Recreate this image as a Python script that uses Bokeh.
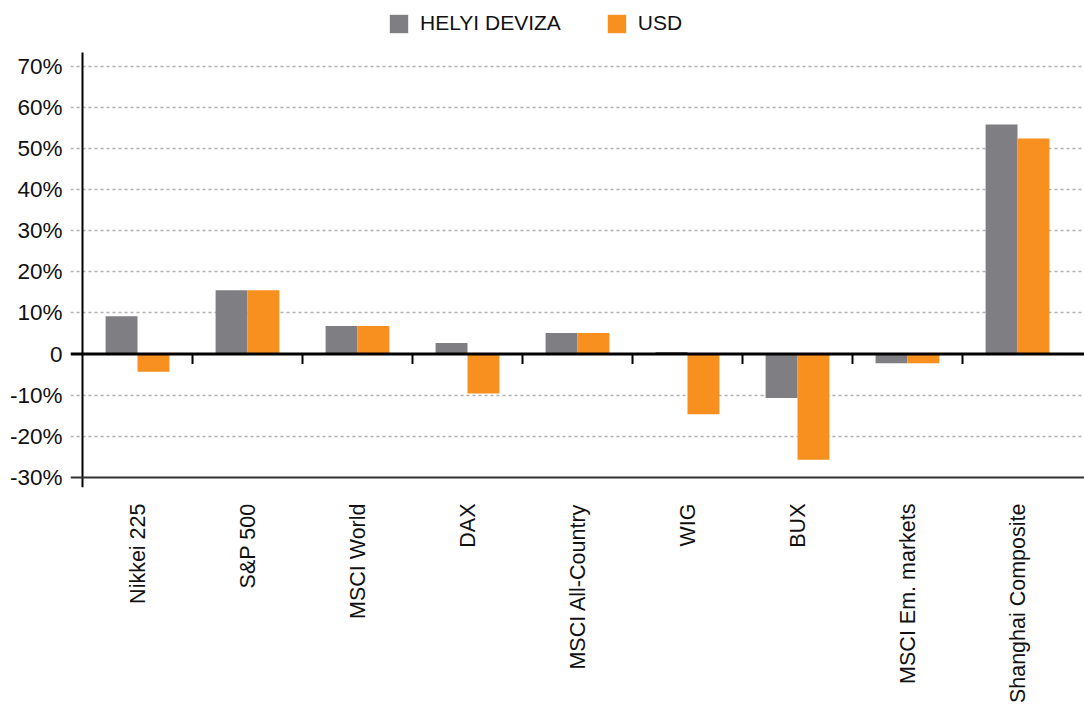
import math
from bokeh.plotting import figure
from bokeh.models import Range1d, FixedTicker, Span, Legend, LegendItem, ColumnDataSource
from bokeh.embed import file_html
from bokeh.resources import INLINE

categories = ["Nikkei 225", "S&P 500", "MSCI World", "DAX", "MSCI All-Country",
              "WIG", "BUX", "MSCI Em. markets", "Shanghai Composite"]
helyi_deviza = [9.2, 15.5, 6.8, 2.7, 5.1, 0.5, -10.7, -2.2, 55.8]
usd = [-4.3, 15.5, 6.8, -9.6, 5.1, -14.6, -25.7, -2.2, 52.4]
y_ticks = [-30, -20, -10, 0, 10, 20, 30, 40, 50, 60, 70]
y_tick_labels = ["-30%", "-20%", "-10%", "0", "10%", "20%", "30%", "40%", "50%", "60%", "70%"]

GRAY = "#7f7e83"
ORANGE = "#f7901e"
FONT = "Liberation Sans"

n = len(categories)
centers = [i + 0.5 for i in range(n)]
bw = 0.29
Y_BOTTOM = -32.43
Y_AXIS_TOP = 73.3
FRAME_H = 479
PX_PER_UNIT = 4.114

src = ColumnDataSource(dict(
    xg=[c - bw / 2 for c in centers],
    xo=[c + bw / 2 for c in centers],
    helyi=helyi_deviza,
    usd=usd,
))

p = figure(frame_width=1014, frame_height=FRAME_H, output_backend="svg", toolbar_location=None,
           x_range=Range1d(-12 / 110, 1002 / 110),
           y_range=Range1d(Y_BOTTOM, Y_BOTTOM + FRAME_H / PX_PER_UNIT),
           min_border_left=70, min_border_right=0, min_border_top=8, min_border_bottom=0)
p.outline_line_color = None
p.background_fill_color = "white"

r1 = p.vbar(x="xg", top="helyi", bottom=0, width=bw, source=src,
            fill_color=GRAY, line_color=None)
r2 = p.vbar(x="xo", top="usd", bottom=0, width=bw, source=src,
            fill_color=ORANGE, line_color=None)

# grid
p.xgrid.grid_line_color = None
p.ygrid.ticker = FixedTicker(ticks=[t for t in y_ticks if t not in (0, y_ticks[0])])
p.ygrid.grid_line_color = "#b0b0b0"
p.ygrid.grid_line_dash = "3 3"
p.ygrid.grid_line_width = 1.3

# y axis
ya = p.yaxis[0]
ya.ticker = FixedTicker(ticks=y_ticks)
ya.major_label_overrides = {t: l for t, l in zip(y_ticks, y_tick_labels)}
ya.axis_line_color = None
ya.major_tick_line_color = None
ya.major_tick_out = 0
ya.major_tick_in = 0
ya.minor_tick_line_color = None
ya.major_label_standoff = 8
ya.major_label_text_font = FONT
ya.major_label_text_font_size = "22.5px"
ya.major_label_text_color = "#111111"

# x axis
xa = p.xaxis[0]
xa.ticker = FixedTicker(ticks=centers)
xa.major_label_overrides = {c: l for c, l in zip(centers, categories)}
xa.major_label_orientation = math.pi / 2
xa.axis_line_color = None
xa.major_tick_line_color = None
xa.major_tick_out = 0
xa.major_tick_in = 0
xa.minor_tick_line_color = None
xa.major_label_standoff = 16
xa.major_label_text_font = FONT
xa.major_label_text_font_size = "21.5px"
xa.major_label_text_color = "#111111"

# zero line, bottom line
p.add_layout(Span(location=0, dimension="width", line_color="black", line_width=3))
p.add_layout(Span(location=y_ticks[0], dimension="width", line_color="#333333", line_width=2))
# vertical axis line
p.segment(x0=[0], x1=[0], y0=[Y_BOTTOM], y1=[Y_AXIS_TOP], line_color="black", line_width=2)

# category boundary ticks below zero line
bounds = list(range(1, n))
p.segment(x0=bounds, x1=bounds, y0=[0] * len(bounds), y1=[-2.4] * len(bounds),
          line_color="black", line_width=2)

legend = Legend(items=[LegendItem(label="HELYI DEVIZA", renderers=[r1]),
                       LegendItem(label="USD", renderers=[r2])],
                orientation="horizontal", location=(317, FRAME_H - 27),
                glyph_width=23, glyph_height=23, label_height=23,
                label_standoff=10, spacing=44, padding=0, margin=0,
                border_line_color=None, background_fill_alpha=0,
                label_text_font=FONT, label_text_font_size="21px",
                label_text_color="#111111")
p.add_layout(legend, "center")

open("out.html", "w").write(file_html(p, INLINE))
